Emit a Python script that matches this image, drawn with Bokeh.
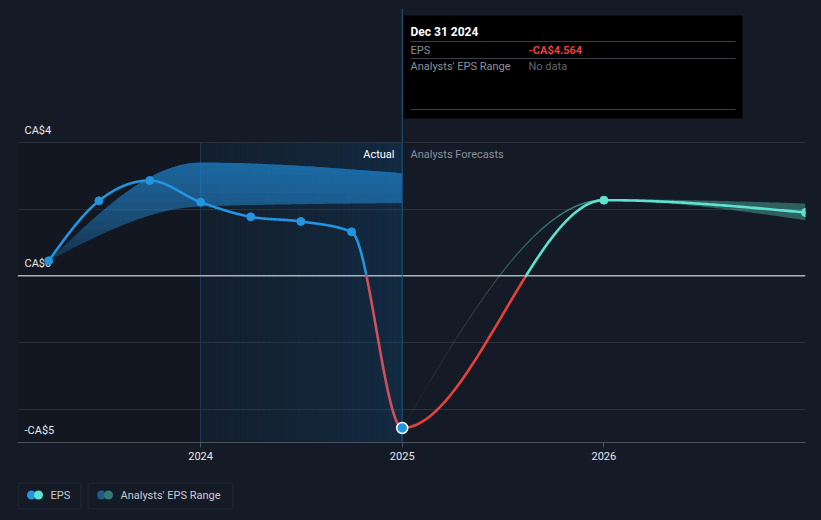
import numpy as np
import pandas as pd
from bokeh.plotting import figure
from bokeh.models import Range1d, FixedTicker, BoxAnnotation
from bokeh.layouts import column
from bokeh.core.properties import value
from bokeh.embed import file_html
from bokeh.resources import INLINE

# ---------------- data ----------------
eps_dates = ["2023-03-31", "2023-06-30", "2023-09-30", "2023-12-31",
             "2024-03-31", "2024-06-30", "2024-09-30", "2024-12-31"]
eps_values = [0.45, 2.25, 2.86, 2.21, 1.77, 1.63, 1.32, -4.564]

forecast_dates = ["2025-12-31", "2026-12-31"]
forecast_values = [2.27, 1.90]

past_range_dates = ["2023-03-31", "2023-12-31", "2024-12-31"]
past_range_low = [0.45, 2.08, 2.18]
past_range_high = [0.45, 3.40, 3.08]

future_range_dates = ["2024-12-31", "2025-12-31", "2026-12-31"]
future_range_low = [-4.564, 2.25, 1.67]
future_range_high = [-4.564, 2.30, 2.17]

y_tick_values = [4, 0, -5]
y_tick_labels = ["CA$4", "CA$0", "-CA$5"]
x_tick_values = [2024, 2025, 2026]
x_tick_labels = ["2024", "2025", "2026"]

tooltip_date = "Dec 31 2024"
tooltip_eps = "-CA$4.564"

# ---------------- helpers ----------------
def dec_year(s):
    t = pd.Timestamp(s)
    days = 366 if t.is_leap_year else 365
    return t.year + t.dayofyear / days


def _sign(v):
    return -1.0 if v < 0 else 1.0


def monotone_curve(xv, yv, n=60):
    """d3 curveMonotoneX sampled; returns list of (xs, ys) per segment."""
    x = np.asarray(xv, float)
    y = np.asarray(yv, float)
    k = len(x)
    h = np.diff(x)
    s = np.diff(y) / h
    m = np.zeros(k)
    for i in range(1, k - 1):
        p_ = (s[i - 1] * h[i] + s[i] * h[i - 1]) / (h[i - 1] + h[i])
        m[i] = (_sign(s[i - 1]) + _sign(s[i])) * min(abs(s[i - 1]), abs(s[i]), 0.5 * abs(p_))
    m[0] = (3 * s[0] - m[1]) / 2
    m[-1] = (3 * s[-1] - m[-2]) / 2
    segs = []
    u = np.linspace(0, 1, n)
    for i in range(k - 1):
        dx = (x[i + 1] - x[i]) / 3
        px = [x[i], x[i] + dx, x[i + 1] - dx, x[i + 1]]
        py = [y[i], y[i] + dx * m[i], y[i + 1] - dx * m[i + 1], y[i + 1]]
        b0 = (1 - u) ** 3
        b1 = 3 * u * (1 - u) ** 2
        b2 = 3 * u ** 2 * (1 - u)
        b3 = u ** 3
        xs = b0 * px[0] + b1 * px[1] + b2 * px[2] + b3 * px[3]
        ys = b0 * py[0] + b1 * py[1] + b2 * py[2] + b3 * py[3]
        segs.append((xs, ys))
    return segs


def split_by_sign(xs, ys):
    pieces = []
    cx, cy = [xs[0]], [ys[0]]
    cur = ys[0] >= 0
    for j in range(1, len(xs)):
        pos = ys[j] >= 0
        if pos != cur:
            t = ys[j - 1] / (ys[j - 1] - ys[j])
            zx = xs[j - 1] + t * (xs[j] - xs[j - 1])
            cx.append(zx); cy.append(0.0)
            pieces.append((cx, cy, cur))
            cx, cy = [zx], [0.0]
            cur = pos
        cx.append(xs[j]); cy.append(ys[j])
    pieces.append((cx, cy, cur))
    return pieces

# ---------------- geometry ----------------
X0, X1 = 2023.092, 2027.0
Y0, Y1 = -5.0, 8.02
FL, FR, FT, FB = 17, 805, 8, 442  # frame edges on the page
PAGE_W, PAGE_H = 821, 520
MAIN_H = 472


def sx(px):
    return X0 + (px - FL) * (X1 - X0) / (FR - FL)


def sy(py):
    return Y0 + (FB - py) * (Y1 - Y0) / (FB - FT)

BG = "#151b26"
BLUE = "#2394df"
TEAL = "#5ee2cf"
RED = "#e8413c"
RED_PAST = "#cf5058"
FONT = value("Roboto")

p = figure(width=PAGE_W, height=MAIN_H, x_range=Range1d(X0, X1), y_range=Range1d(Y0, Y1),
           output_backend="svg", toolbar_location=None, y_axis_location=None,
           min_border_left=FL, min_border_right=PAGE_W - FR, min_border_top=FT,
           min_border_bottom=MAIN_H - FB)
p.background_fill_color = BG
p.border_fill_color = BG
p.outline_line_color = None
p.xgrid.visible = False
p.ygrid.ticker = FixedTicker(ticks=[-4, -2, 2, 4])
p.ygrid.grid_line_color = "#2c323c"
p.ygrid.grid_line_width = 1

p.xaxis.ticker = FixedTicker(ticks=x_tick_values)
p.xaxis.major_label_overrides = {v: l for v, l in zip(x_tick_values, x_tick_labels)}
p.xaxis.axis_line_color = "#4b525c"
p.xaxis.major_tick_line_color = "#4b525c"
p.xaxis.major_tick_in = 0
p.xaxis.major_tick_out = 5
p.xaxis.minor_tick_line_color = None
p.xaxis.major_label_text_color = "#e6e8eb"
p.xaxis.major_label_text_font = "Roboto"
p.xaxis.major_label_text_font_size = "11px"
p.xaxis.major_label_standoff = 4

ex = [dec_year(d) for d in eps_dates]
fx = [dec_year(d) for d in forecast_dates]
split_x = ex[-1]

# shaded regions
p.quad(left=X0, right=split_x - 1.0, bottom=Y0, top=4, fill_color="black", fill_alpha=0.12, line_color=None)
nstrip = 40
edges = np.linspace(split_x - 1.0, split_x, nstrip + 1)
alphas = np.linspace(0.10, 0.34, nstrip)
p.quad(left=edges[:-1], right=edges[1:], bottom=Y0, top=4, fill_color="#0f4875",
       fill_alpha=alphas, line_color=None)
p.segment(x0=split_x - 1.0, y0=Y0, x1=split_x - 1.0, y1=4, line_color="#1a3a5a", line_width=1)

# y labels
lab_x = sx(24)
lab_y = [v + 12 / ((FB - FT) / (Y1 - Y0)) for v in y_tick_values]
p.text(x=[lab_x] * 3, y=lab_y, text=y_tick_labels, text_font=FONT, text_font_size="11px",
       text_color="#e6e8eb", text_baseline="middle", text_align="left")

# zero line
p.segment(x0=X0, y0=0, x1=X1, y1=0, line_color="#aeb2b7", line_width=1.5)

# past analyst range band (vertical gradient)
prx = [dec_year(d) for d in past_range_dates]
up_segs = monotone_curve(prx, past_range_high)
lo_segs = monotone_curve(prx, past_range_low)
bx = np.concatenate([s[0] for s in up_segs])
bu = np.concatenate([s[1] for s in up_segs])
bl = np.concatenate([s[1] for s in lo_segs])
levels = np.linspace(0.3, 3.3, 12)
for i, lv in enumerate(levels):
    a = 0.2 if i == 0 else 0.075
    lo = np.maximum(bl, lv)
    hi = np.maximum(bu, lo)
    p.varea(x=bx, y1=lo, y2=hi, fill_color=BLUE, fill_alpha=a)

# future analyst range band
frx = [dec_year(d) for d in future_range_dates]
fu_segs = monotone_curve(frx, future_range_high)
fl_segs = monotone_curve(frx, future_range_low)
fbx = np.concatenate([s[0] for s in fu_segs])
fbu = np.concatenate([s[1] for s in fu_segs])
fbl = np.concatenate([s[1] for s in fl_segs])
p.varea(x=fbx, y1=fbl, y2=fbu, fill_color=TEAL, fill_alpha=0.35)
# faint thin part of the band between first and second forecast year
mx = fu_segs[0][0]
my = (fu_segs[0][1] + fl_segs[0][1]) / 2
fxs, fys, fcol, falp = [], [], [], []
for j in range(len(mx) - 1):
    fxs.append([mx[j], mx[j + 1]])
    fys.append([my[j], my[j + 1]])
    fcol.append(RED if (my[j] + my[j + 1]) / 2 < 0 else TEAL)
    falp.append(0.03 + 0.32 * (j / (len(mx) - 1)) ** 2)
p.multi_line(xs=fxs, ys=fys, line_color=fcol, line_alpha=falp, line_width=1.5)

# crosshair
p.segment(x0=split_x, y0=Y0, x1=split_x, y1=Y1, line_color="#1f5582", line_width=1)

# EPS line (actual + forecast, colored by sign)
all_x = ex + fx
all_y = eps_values + forecast_values
segs = monotone_curve(all_x, all_y, n=80)
lxs, lys, lcol = [], [], []
nact = len(ex) - 1
for i, (xs, ys) in enumerate(segs):
    forecast = i >= nact
    for cx, cy, pos in split_by_sign(list(xs), list(ys)):
        lxs.append(cx); lys.append(cy)
        if forecast:
            lcol.append(TEAL if pos else RED)
        else:
            lcol.append(BLUE if pos else RED_PAST)
p.multi_line(xs=lxs, ys=lys, line_color=lcol, line_width=2.6, line_cap="round", line_join="round")

# markers
p.scatter(x=ex[:-1], y=eps_values[:-1], size=8, fill_color=BLUE, line_color=BLUE)
p.scatter(x=[ex[-1]], y=[eps_values[-1]], size=11, fill_color=BLUE, line_color="white", line_width=1.5)
p.scatter(x=fx, y=forecast_values, size=8, fill_color=TEAL, line_color=TEAL)

# Actual / Forecast labels
p.text(x=[sx(394)], y=[sy(154)], text=["Actual"], text_font=FONT, text_font_size="11px",
       text_color="#ffffff", text_baseline="middle", text_align="right")
p.text(x=[sx(410)], y=[sy(154)], text=["Analysts Forecasts"], text_font=FONT, text_font_size="11px",
       text_color="#8a9099", text_baseline="middle", text_align="left")

# tooltip
p.quad(left=sx(403), right=sx(742), top=sy(15), bottom=sy(118), fill_color="black",
       fill_alpha=0.97, line_color=None)
p.segment(x0=[sx(410)] * 3, x1=[sx(735)] * 3, y0=[sy(41), sy(58), sy(109)], y1=[sy(41), sy(58), sy(109)],
          line_color="#3a3f46", line_width=1)
p.text(x=[sx(410)], y=[sy(31)], text=[tooltip_date], text_font=FONT, text_font_size="12px",
       text_font_style="bold", text_color="#ffffff", text_baseline="middle")
p.text(x=[sx(410), sx(410)], y=[sy(49.5), sy(66)], text=["EPS", "Analysts' EPS Range"], text_font=FONT,
       text_font_size="11px", text_color="#8a9099", text_baseline="middle")
p.text(x=[sx(528)], y=[sy(49.5)], text=[tooltip_eps], text_font=FONT, text_font_size="11px",
       text_font_style="bold", text_color="#e8413c", text_baseline="middle")
p.text(x=[sx(528)], y=[sy(66)], text=["No data"], text_font=FONT, text_font_size="11px",
       text_color="#62676f", text_baseline="middle")

# ---------------- legend figure (frame aligned with the main frame) ----------------
LEG_H = PAGE_H - MAIN_H
lg = figure(width=PAGE_W, height=LEG_H, x_range=Range1d(FL, FR), y_range=Range1d(PAGE_H, MAIN_H),
            output_backend="svg", toolbar_location=None, x_axis_location=None, y_axis_location=None,
            min_border_left=FL, min_border_right=PAGE_W - FR, min_border_top=0, min_border_bottom=0)
lg.background_fill_color = BG
lg.border_fill_color = BG
lg.outline_line_color = None
lg.grid.visible = False
for l, r in [(17.5, 80.5), (87.5, 232.5)]:
    lg.add_layout(BoxAnnotation(left=l, right=r, top=482.5, bottom=508.5, fill_color=None,
                                line_color="#3e4550", line_width=1, border_radius=3))
lg.scatter(x=[31, 38], y=[494.5, 494.5], size=9, fill_color=[BLUE, TEAL], line_color=None)
lg.scatter(x=[101, 108], y=[494.5, 494.5], size=9, fill_color=["#1e5a84", "#2f7a76"], line_color=None)
lg.text(x=[50, 120], y=[495, 495], text=["EPS", "Analysts' EPS Range"], text_font=FONT,
        text_font_size="11px", text_color="#c8ccd1", text_baseline="middle")

layout = column(p, lg, spacing=0)
html = file_html(layout, INLINE)
html = html.replace("<head>", "<head><style>html,body{margin:0;padding:0;background:%s;}</style>" % BG, 1)
open("out.html", "w").write(html)
